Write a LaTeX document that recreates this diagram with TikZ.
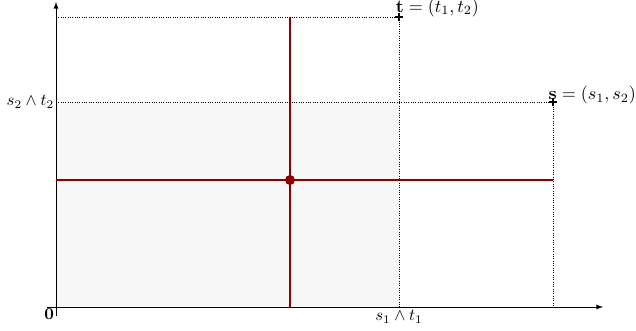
\documentclass[tikz,border=0pt]{standalone}
\usepackage{amssymb, amsmath}
\usetikzlibrary{arrows, shapes.misc}

\begin{document}
\begin{tikzpicture}[plusmark/.style={draw, cross out, rotate=45, minimum size=3.4pt, inner sep=0pt, outer sep=0pt, thick},
				redline/.style={draw=red!55!black, line width=0.8pt},
				ptlabel/.style={anchor=base west, inner sep=0pt, scale=1.08},
				x=0.6pt, y=0.6pt,
				>=latex]   %Voreinstellung für Pfeilspitzen
				\useasboundingbox (-56,-24) rectangle (580,307);
				% Punkte festlegen
				\coordinate (O) at (0,0);
				\coordinate (T) at (343,290);
				\coordinate (S) at (497,205);
				\coordinate (Ty) at (0,290);
				\coordinate (Tx) at (343,0);
				\coordinate (Sy) at (0,205);
				\coordinate (Sx) at (497,0);
				\coordinate (M) at (234,127);
				% Grauer Bereich
				\fill[gray!6] (O) rectangle (S -| T);
				% Achsen zeichnen
				\coordinate (xa) at (-9,0);
				\coordinate (xe) at (547,0);
				\coordinate (ya) at (0,-9);
				\coordinate (ye) at (0,305);
				\draw[->] (xa) -- (xe);
				\draw[->] (ya) -- (ye);
				% Hilfslinien
				\draw[densely dotted] (Ty) -- (T) -- (Tx);
				\draw[densely dotted] (Sy) -- (S) -- (Sx);
				% Kreuz durch M
				\draw[redline] (M |- O) -- (M |- T);
				\draw[redline] (M -| O) -- (M -| S);
				\fill[red!55!black] (M) circle (3pt);
				% Punkte markieren
				\node[plusmark] (tm) at (T) {};
				\node[plusmark] (sm) at (S) {};
				%Beschriftung
				\node[ptlabel, xshift=-2pt, yshift=2.7pt] (tl) at (T) {$\mathbf{t}=(t_1,t_2)$};
				\node[ptlabel, xshift=-2.6pt, yshift=1.3pt] (sl) at (S) {$\mathbf{s}=(s_1,s_2)$};
				\node[left, inner sep=1pt] (yl) at (Sy) {$s_2\wedge t_2$};
				\node[below, inner sep=2pt] (xl) at (Tx) {$s_1\wedge t_1$};
				\node[below left, inner sep=1pt] (ol) at (O) {$\mathbf{0}$};
			\end{tikzpicture}
\end{document}
